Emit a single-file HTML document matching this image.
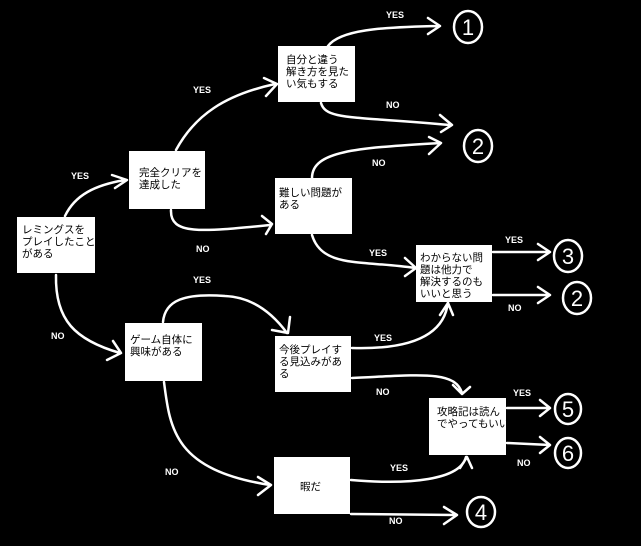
<!DOCTYPE html>
<html><head><meta charset="utf-8"><style>
html,body{margin:0;padding:0;background:#000;}
svg{display:block}
.b{fill:#fff}
.t{font-family:"Liberation Sans","Noto Sans CJK JP",sans-serif;font-size:10.5px;fill:#000}
.l{font-family:"Liberation Sans",sans-serif;font-size:9px;font-weight:bold;fill:#fff}
.c{fill:none;stroke:#fff;stroke-width:2.5;stroke-linecap:round;stroke-linejoin:round}
.n{font-family:"Liberation Sans",sans-serif;font-size:22px;fill:#fff;text-anchor:middle}
</style></head><body>
<svg width="641" height="546" viewBox="0 0 641 546">
<rect width="641" height="546" fill="#000"/>
<rect class="b" x="17" y="217" width="78" height="56"/>
<rect class="b" x="129" y="151" width="76" height="58"/>
<rect class="b" x="278" y="46" width="77" height="56"/>
<rect class="b" x="275" y="178" width="77" height="56"/>
<rect class="b" x="416" y="245" width="76" height="57"/>
<rect class="b" x="125" y="323" width="77" height="58"/>
<rect class="b" x="275" y="336" width="76" height="56"/>
<rect class="b" x="429" y="398" width="77" height="57"/>
<rect class="b" x="274" y="457" width="76" height="57"/>
<text class="t"><tspan x="22" y="233">レミングスを</tspan><tspan x="22" y="245">プレイしたこと</tspan><tspan x="22" y="257">がある</tspan></text>
<text class="t"><tspan x="139" y="176">完全クリアを</tspan><tspan x="139" y="188">達成した</tspan></text>
<text class="t"><tspan x="286" y="63">自分と違う</tspan><tspan x="286" y="75">解き方を見た</tspan><tspan x="286" y="87">い気もする</tspan></text>
<text class="t"><tspan x="279" y="196">難しい問題が</tspan><tspan x="279" y="208">ある</tspan></text>
<text class="t"><tspan x="420" y="261">わからない問</tspan><tspan x="420" y="273">題は他力で</tspan><tspan x="420" y="285">解決するのも</tspan><tspan x="420" y="297">いいと思う</tspan></text>
<text class="t"><tspan x="130" y="343">ゲーム自体に</tspan><tspan x="130" y="355">興味がある</tspan></text>
<text class="t"><tspan x="279" y="353">今後プレイす</tspan><tspan x="279" y="365">る見込みがあ</tspan><tspan x="279" y="377">る</tspan></text>
<text class="t"><tspan x="437" y="415">攻略記は読ん</tspan><tspan x="437" y="427">でやってもいい</tspan></text>
<text class="t" x="300" y="490">暇だ</text>
<path class="c" d="M65,216 C75,195 95,185 125,180 M112,175 L127,180 L115,188"/>
<path class="c" d="M176,150 C195,115 225,95 275,84 M264,78 L277,84 L266,96"/>
<path class="c" d="M171,210 C170,235 200,232 270,225 M262,216 L272,224 L266,234"/>
<path class="c" d="M328,46 C340,30 380,27 440,26 M428,18 L440,26 L428,34"/>
<path class="c" d="M321,103 C326,120 350,116 450,125 M440,115 L452,125 L441,132"/>
<path class="c" d="M312,178 C312,150 360,148 440,143 M429,137 L441,143 L429,154"/>
<path class="c" d="M312,235 C322,268 360,260 415,268 M405,258 L416,268 L405,276"/>
<path class="c" d="M493,252 L550,252 M538,244 L550,252 L538,260"/>
<path class="c" d="M493,295 L550,295 M538,287 L550,295 L538,303"/>
<path class="c" d="M56,275 C55,320 75,340 120,353 M107,360 L121,353 L113,341"/>
<path class="c" d="M163,322 C165,300 185,293 225,296 C250,297 270,310 287,333 M290,317 L288,333 L272,330"/>
<path class="c" d="M352,348 C420,350 445,330 448,302 M440,315 L448,303 L453,315"/>
<path class="c" d="M352,378 C420,375 455,370 462,393 M453,385 L462,394 L470,387"/>
<path class="c" d="M164,382 C170,430 175,470 270,485 M258,477 L271,485 L258,495"/>
<path class="c" d="M351,480 C410,485 460,480 466,457 M460,468 L467,457 L472,468"/>
<path class="c" d="M351,514 L455,515 M444,507 L457,515 L444,524"/>
<path class="c" d="M507,408 L550,408 M540,400 L550,408 L540,416"/>
<path class="c" d="M507,443 L550,445 M540,437 L550,445 L540,453"/>
<text class="l" x="386" y="18">YES</text>
<text class="l" x="193" y="93">YES</text>
<text class="l" x="386" y="108">NO</text>
<text class="l" x="372" y="166">NO</text>
<text class="l" x="71" y="179">YES</text>
<text class="l" x="196" y="252">NO</text>
<text class="l" x="369" y="256">YES</text>
<text class="l" x="505" y="243">YES</text>
<text class="l" x="508" y="311">NO</text>
<text class="l" x="193" y="283">YES</text>
<text class="l" x="51" y="339">NO</text>
<text class="l" x="374" y="341">YES</text>
<text class="l" x="376" y="395">NO</text>
<text class="l" x="513" y="396">YES</text>
<text class="l" x="517" y="466">NO</text>
<text class="l" x="165" y="475">NO</text>
<text class="l" x="390" y="471">YES</text>
<text class="l" x="389" y="524">NO</text>
<g fill="none" stroke="#fff" stroke-width="2.5">
<ellipse cx="468" cy="27" rx="14" ry="16"/>
<ellipse cx="478" cy="146" rx="14" ry="16"/>
<ellipse cx="568" cy="256" rx="14" ry="16"/>
<ellipse cx="577" cy="298" rx="14" ry="16"/>
<ellipse cx="568" cy="409" rx="13" ry="15"/>
<ellipse cx="568" cy="453" rx="13" ry="15"/>
<ellipse cx="481" cy="512" rx="14" ry="15"/>
</g>
<text class="n" x="468" y="35">1</text>
<text class="n" x="478" y="154">2</text>
<text class="n" x="568" y="264">3</text>
<text class="n" x="577" y="306">2</text>
<text class="n" x="568" y="417">5</text>
<text class="n" x="568" y="461">6</text>
<text class="n" x="481" y="520">4</text>
</svg>
</body></html>
